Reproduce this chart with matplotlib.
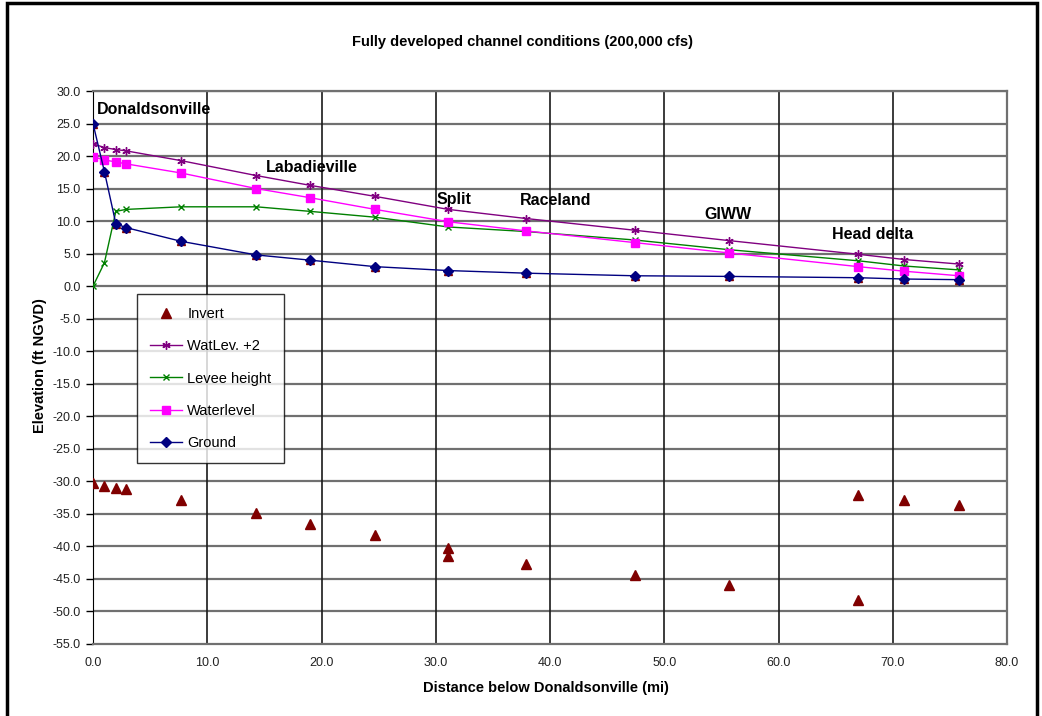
import matplotlib.pyplot as plt
from matplotlib.lines import Line2D
from matplotlib.patches import Rectangle

plt.rcParams['font.family'] = ['Liberation Sans', 'DejaVu Sans']

# Distance below Donaldsonville (mi) for each cross-section
dist = [0.0, 1.0, 2.0, 2.9, 7.7, 14.3, 19.0, 24.7, 31.1, 37.9, 47.4, 55.7, 67.0, 71.0, 75.8]

# Elevations (ft NGVD)
ground = [25.0, 17.6, 9.6, 9.0, 6.9, 4.8, 4.0, 3.0, 2.4, 2.0, 1.6, 1.5, 1.3, 1.1, 1.0]
waterlevel = [19.9, 19.4, 19.1, 18.8, 17.4, 15.0, 13.6, 11.8, 9.9, 8.5, 6.7, 5.1, 3.0, 2.3, 1.6]
watlev_plus2 = [21.9, 21.3, 21.0, 20.8, 19.3, 17.0, 15.5, 13.8, 11.8, 10.4, 8.6, 7.0, 4.9, 4.1, 3.4]
levee = [0.0, 3.6, 11.5, 11.8, 12.2, 12.2, 11.5, 10.6, 9.1, 8.4, 7.1, 5.6, 3.9, 3.1, 2.5]

invert_x = [0.0, 1.0, 2.0, 2.9, 7.7, 14.3, 19.0, 24.7, 31.1, 31.1, 37.9, 47.4, 55.7, 67.0, 67.0, 71.0, 75.8]
invert_y = [-30.2, -30.7, -31.0, -31.2, -32.8, -34.9, -36.5, -38.2, -40.3, -41.4, -42.7, -44.4, -46.0,
            -32.1, -48.2, -32.8, -33.6]

# Place names along the channel
places = ['Donaldsonville', 'Labadieville', 'Split', 'Raceland', 'GIWW', 'Head delta']
place_x = [0.3, 15.1, 30.1, 37.4, 53.5, 64.7]
place_y = [27.2, 18.2, 13.3, 13.1, 11.0, 8.0]

fig = plt.figure(figsize=(10.42, 7.16), dpi=100)
ax = fig.add_axes([93 / 1042, 1 - 644 / 716, (1007 - 93) / 1042, (644 - 91) / 716])

c_inv = '#800000'
c_w2 = '#800080'
c_lev = '#008000'
c_wat = '#FF00FF'
c_gr = '#000080'

ax.plot(dist, ground, linestyle='none', marker='^', ms=6, color=c_inv, zorder=3)
ax.plot(invert_x, invert_y, linestyle='none', marker='^', ms=6.5, color=c_inv, zorder=3)
ax.plot(dist, watlev_plus2, color=c_w2, lw=1, marker=(6, 2, 0), ms=6, mew=1, zorder=4)
ax.plot(dist, levee, color=c_lev, lw=1, marker='x', ms=4.5, mew=1, zorder=4)
ax.plot(dist, waterlevel, color=c_wat, lw=1, marker='s', ms=6, zorder=5)
ax.plot(dist, ground, color=c_gr, lw=1, marker='D', ms=5.5, zorder=6)

for name, px, py in zip(places, place_x, place_y):
    ax.text(px, py, name, fontsize=11.5, fontweight='bold', ha='left', va='center', zorder=7)

ax.set_xlim(0, 80)
ax.set_ylim(-55, 30)
ax.set_xticks(range(0, 81, 10))
ax.set_yticks(range(-55, 31, 5))
ax.set_xticklabels([f'{v:.1f}' for v in range(0, 81, 10)])
ax.set_yticklabels([f'{v:.1f}' for v in range(-55, 31, 5)])
ax.tick_params(axis='x', length=0, pad=9, labelsize=9, labelcolor='#222222')
ax.tick_params(axis='y', length=5, width=1, pad=4, labelsize=9, labelcolor='#222222')

for y in range(-50, 30, 5):
    ax.axhline(y, color='#707070', lw=1.6, zorder=1)
for x in range(10, 80, 10):
    ax.axvline(x, color='#1a1a1a', lw=1.2, zorder=1)
ax.axhline(30, color='#707070', lw=1.6, zorder=1)

ax.spines['left'].set_color('black')
for s in ['top', 'right', 'bottom']:
    ax.spines[s].set_color('#707070')
    ax.spines[s].set_linewidth(1.6)

handles = [
    Line2D([], [], linestyle='none', marker='^', ms=7, color=c_inv),
    Line2D([], [], color=c_w2, lw=1, marker=(6, 2, 0), ms=6),
    Line2D([], [], color=c_lev, lw=1, marker='x', ms=4.5),
    Line2D([], [], color=c_wat, lw=1, marker='s', ms=6),
    Line2D([], [], color=c_gr, lw=1, marker='D', ms=5.5),
]
labels = ['Invert', 'WatLev. +2', 'Levee height', 'Waterlevel', 'Ground']
leg = ax.legend(handles, labels, loc='upper left', bbox_to_anchor=(0.048, 0.633),
                borderaxespad=0, fontsize=10.5, frameon=True, fancybox=False,
                handlelength=2.2, handletextpad=0.35, labelspacing=1.25, borderpad=0.9)
leg.get_frame().set_edgecolor('black')
leg.get_frame().set_linewidth(1)
leg.set_zorder(8)

fig.text(0.501, 1 - 42 / 716, 'Fully developed channel conditions (200,000 cfs)',
         fontsize=10.5, fontweight='bold', ha='center', va='center')
fig.text(546 / 1042, 1 - 688 / 716, 'Distance below Donaldsonville (mi)',
         fontsize=10.5, fontweight='bold', ha='center', va='center')
fig.text(40 / 1042, 1 - 366 / 716, 'Elevation (ft NGVD)',
         fontsize=10.5, fontweight='bold', ha='center', va='center', rotation=90)

# outer chart frame
fig.patches.append(Rectangle((7 / 1042, -0.01), (1037 - 7) / 1042, 1 - 3 / 716 + 0.01,
                             transform=fig.transFigure, fill=False, edgecolor='black', lw=2.5))

fig.savefig('out.png', dpi=100)
